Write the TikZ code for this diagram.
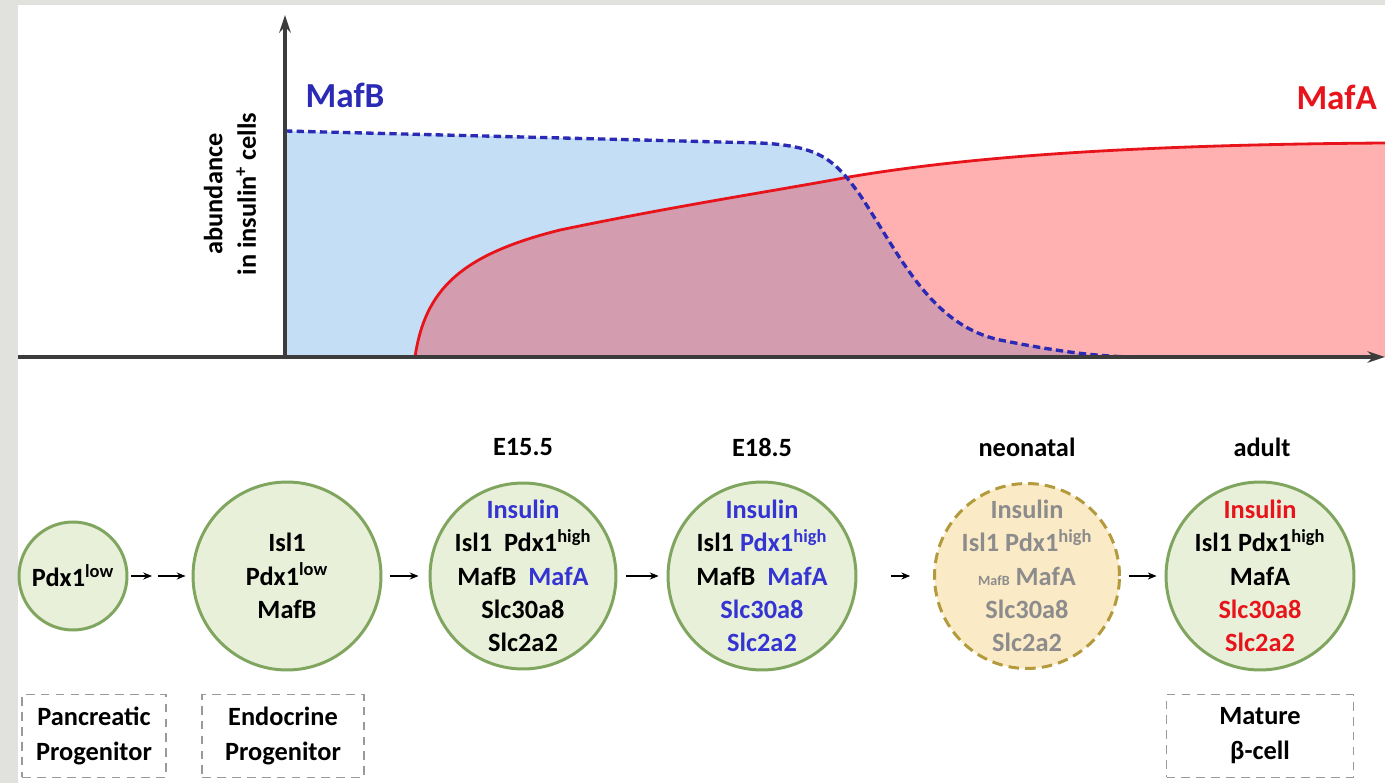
\documentclass[tikz,border=0pt]{standalone}
\usepackage{fontspec}
\setmainfont{Carlito}
\usetikzlibrary{arrows.meta,positioning}
\definecolor{framec}{HTML}{E1E2DD}
\definecolor{axisc}{HTML}{3C3C3C}
\definecolor{bluef}{HTML}{C4DEF6}
\definecolor{pinkf}{HTML}{FFB1B1}
\definecolor{mauvef}{HTML}{D39DAF}
\definecolor{mafbc}{HTML}{2A2AB5}
\definecolor{mafac}{HTML}{E8141B}
\definecolor{bluet}{HTML}{3434D2}
\definecolor{greyt}{HTML}{8C8C8C}
\definecolor{cellf}{HTML}{E9F0DA}
\definecolor{cellb}{HTML}{7FA55E}
\definecolor{neof}{HTML}{FBEAC6}
\definecolor{neob}{HTML}{B39A3C}
\definecolor{boxb}{HTML}{9A9A9A}
\tikzset{
  axis/.style={line width=1.9pt,axisc,-{Stealth[length=10pt,width=6.5pt]}},
  mafbline/.style={line width=1.9pt,mafbc,dash pattern=on 4.2pt off 2.4pt},
  mafaline/.style={line width=1.6pt,mafac},
  cell/.style={circle,draw=cellb,line width=1.7pt,fill=cellf,inner sep=0pt,minimum size=3.76cm},
  neocell/.style={cell,draw=neob,fill=neof,dash pattern=on 6pt off 3.5pt,minimum size=3.7cm},
  genes/.style={align=center,font=\fontsize{15}{19}\selectfont\bfseries},
  stage/.style={font=\fontsize{15}{18}\selectfont\bfseries},
  kind/.style={draw=boxb,line width=0.9pt,dash pattern=on 5pt off 3.5pt,align=center,
    minimum height=1.66cm,font=\fontsize{15}{20}\selectfont\bfseries},
  flow/.style={line width=1pt,black,-{Stealth[length=5pt,width=4pt]}}
}
\newcommand\mafbcurve{(285,131) -- (760,143) .. controls (820,146) and (835,160) .. (860,195)
  .. controls (900,255) and (930,325) .. (1000,340) .. controls (1060,352) and (1100,357) .. (1140,357)}
\newcommand\mafacurve{(415,357) .. controls (425,290) and (460,255) .. (560,230)
  .. controls (680,205) and (780,190) .. (849,177) .. controls (950,160) and (1100,145) .. (1385,143)}
\begin{document}
\begin{tikzpicture}[x=0.02cm,y=-0.02cm]
\useasboundingbox (0,0) rectangle (1385,783);
\fill[framec] (0,0) rectangle (1385,783);
\fill[white] (18,5) rectangle (1385,783);
% abundance plot
\fill[bluef] (285,357) -- \mafbcurve -- cycle;
\fill[pinkf] \mafacurve -- (1385,357) -- cycle;
\begin{scope}
  \clip (285,357) -- \mafbcurve -- cycle;
  \fill[mauvef] \mafacurve -- (1385,357) -- cycle;
\end{scope}
\draw[mafaline] \mafacurve;
\draw[mafbline] \mafbcurve;
\draw[axis] (18,357) -- (1385,357);
\draw[axis] (285,357) -- (285,15);
\node[font=\fontsize{20}{24}\selectfont\bfseries,text=mafbc] (lmafb) at (345,95) {MafB};
\node[font=\fontsize{20}{24}\selectfont\bfseries,text=mafac,anchor=east] (lmafa) at (1383,97) {MafA};
\node[genes,rotate=90] (ylab) at (230,194) {abundance\\in insulin\textsuperscript{+} cells};
% cells
\node[cell,minimum size=2.16cm] (c1) at (73,576) {};
\node[cell] (c2) at (287,576) {};
\node[cell,minimum size=3.72cm] (c3) at (523,576) {};
\node[cell] (c4) at (762,576) {};
\node[neocell] (c5) at (1027,576) {};
\node[cell] (c6) at (1260,576) {};
\node[genes] (g1) at (c1) {Pdx1\textsuperscript{low}};
\node[genes] (g2) at (c2) {Isl1\\Pdx1\textsuperscript{low}\\MafB};
\node[genes] (g3) at (c3) {{\color{bluet}Insulin}\\Isl1\ \ Pdx1\textsuperscript{high}\\MafB\ \ {\color{bluet}MafA}\\Slc30a8\\Slc2a2};
\node[genes] (g4) at (c4) {{\color{bluet}Insulin}\\Isl1 {\color{bluet}Pdx1\textsuperscript{high}}\\MafB\ \ {\color{bluet}MafA}\\{\color{bluet}Slc30a8}\\{\color{bluet}Slc2a2}};
\node[genes,text=greyt] (g5) at (c5) {Insulin\\Isl1 Pdx1\textsuperscript{high}\\{\fontsize{8}{9}\selectfont MafB} MafA\\Slc30a8\\Slc2a2};
\node[genes] (g6) at (c6) {{\color{mafac}Insulin}\\Isl1 Pdx1\textsuperscript{high}\\MafA\\{\color{mafac}Slc30a8}\\{\color{mafac}Slc2a2}};
% stages
\node[stage] (e15) at (523,447) {E15.5};
\node[stage] (e18) at (762,447) {E18.5};
\node[stage] (neo) at (1027,447) {neonatal};
\node[stage] (adu) at (1262,447) {adult};
% arrows
\coordinate (m12) at (155,576);
\draw[flow,shorten <=1.7pt,shorten >=1.7pt] (c1) -- (m12);
\draw[flow,shorten <=1.7pt,shorten >=3.4pt] (m12) -- (c2);
\draw[flow,shorten <=4pt,shorten >=5.7pt] (c2) -- (c3);
\draw[flow,shorten <=5pt,shorten >=4.5pt] (c3) -- (c4);
\draw[flow,shorten <=19pt,shorten >=13pt] (c4) -- (c5);
\draw[flow,shorten <=4.5pt,shorten >=4.5pt] (c5) -- (c6);
% cell types
\node[kind,minimum width=2.88cm] (bpan) at (94,736) {Pancreatic\\Progenitor};
\node[kind,minimum width=3.24cm] (bendo) at (283,736) {Endocrine\\Progenitor};
\node[kind,minimum width=3.74cm] (bmat) at (1260,736) {Mature\\β-cell};
\end{tikzpicture}
\end{document}
